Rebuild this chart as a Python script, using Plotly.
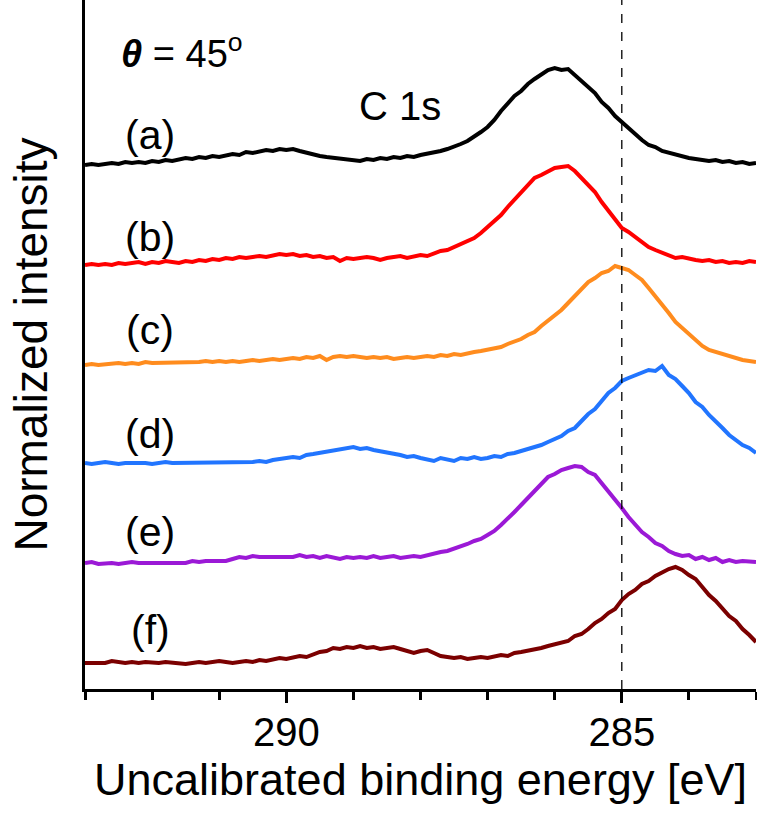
import plotly.graph_objects as go

# ---- data: binding energy grid (eV) and normalized intensities ----
energy = [293.0, 292.9, 292.8, 292.7, 292.6, 292.5, 292.4, 292.3, 292.2, 292.1,
          292.0, 291.9, 291.8, 291.7, 291.6, 291.5, 291.4, 291.3, 291.2, 291.1,
          291.0, 290.9, 290.8, 290.7, 290.6, 290.5, 290.4, 290.3, 290.2, 290.1,
          290.0, 289.9, 289.8, 289.7, 289.6, 289.5, 289.4, 289.3, 289.2, 289.1,
          289.0, 288.9, 288.8, 288.7, 288.6, 288.5, 288.4, 288.3, 288.2, 288.1,
          288.0, 287.9, 287.8, 287.7, 287.6, 287.5, 287.4, 287.3, 287.2, 287.1,
          287.0, 286.9, 286.8, 286.7, 286.6, 286.5, 286.4, 286.3, 286.2, 286.1,
          286.0, 285.9, 285.8, 285.7, 285.6, 285.5, 285.4, 285.3, 285.2, 285.1,
          285.0, 284.9, 284.8, 284.7, 284.6, 284.5, 284.4, 284.3, 284.2, 284.1,
          284.0, 283.9, 283.8, 283.7, 283.6, 283.5, 283.4, 283.3, 283.2, 283.1,
          283.0]

I_a = [-0.02, -0.01, -0.02, -0.01, 0.00, -0.01, 0.01, 0.00, 0.01, 0.00,
       0.02, 0.01, 0.03, 0.02, 0.03, 0.05, 0.04, 0.06, 0.05, 0.07,
       0.06, 0.08, 0.09, 0.08, 0.11, 0.10, 0.12, 0.13, 0.12, 0.14,
       0.13, 0.14, 0.12, 0.10, 0.09, 0.07, 0.06, 0.05, 0.04, 0.03,
       0.03, 0.02, 0.04, 0.03, 0.05, 0.04, 0.06, 0.05, 0.07, 0.06,
       0.08, 0.09, 0.11, 0.12, 0.14, 0.16, 0.19, 0.22, 0.26, 0.31,
       0.36, 0.43, 0.52, 0.60, 0.67, 0.72, 0.79, 0.84, 0.88, 0.93,
       0.95, 0.93, 0.94, 0.88, 0.83, 0.76, 0.70, 0.61, 0.55, 0.47,
       0.41, 0.34, 0.28, 0.23, 0.18, 0.16, 0.12, 0.10, 0.08, 0.07,
       0.05, 0.04, 0.03, 0.02, 0.03, 0.01, 0.02, 0.00, 0.01, -0.01,
       0.00]

I_b = [-0.02, -0.01, -0.02, -0.01, -0.02, 0.00, -0.01, 0.00, 0.01, -0.01,
       0.01, 0.00, 0.02, 0.01, 0.00, 0.02, 0.01, 0.03, 0.02, 0.04,
       0.03, 0.05, 0.04, 0.06, 0.05, 0.06, 0.07, 0.06, 0.08, 0.09,
       0.08, 0.09, 0.07, 0.08, 0.06, 0.07, 0.05, 0.06, 0.02, 0.05,
       0.04, 0.05, 0.06, 0.05, 0.03, 0.05, 0.06, 0.07, 0.05, 0.06,
       0.08, 0.07, 0.10, 0.12, 0.13, 0.16, 0.18, 0.22, 0.25, 0.30,
       0.36, 0.42, 0.48, 0.56, 0.63, 0.70, 0.77, 0.85, 0.88, 0.92,
       0.95, 0.96, 0.97, 0.92, 0.85, 0.79, 0.71, 0.61, 0.52, 0.43,
       0.35, 0.31, 0.26, 0.21, 0.16, 0.13, 0.10, 0.08, 0.05, 0.06,
       0.04, 0.03, 0.02, 0.03, 0.01, 0.02, 0.00, 0.01, 0.00, 0.02,
       0.01]

I_c = [-0.02, -0.01, -0.02, -0.01, -0.01, 0.00, -0.01, 0.00, -0.01, 0.01,
       0.00, 0.00, 0.01, 0.00, 0.00, 0.01, 0.00, 0.01, 0.02, 0.01,
       0.02, 0.01, 0.02, 0.01, 0.02, 0.03, 0.02, 0.03, 0.04, 0.03,
       0.04, 0.05, 0.04, 0.06, 0.05, 0.07, 0.03, 0.06, 0.07, 0.06,
       0.07, 0.06, 0.05, 0.06, 0.05, 0.06, 0.04, 0.05, 0.06, 0.05,
       0.06, 0.07, 0.06, 0.08, 0.07, 0.09, 0.08, 0.10, 0.11, 0.12,
       0.13, 0.15, 0.16, 0.19, 0.21, 0.24, 0.28, 0.31, 0.37, 0.42,
       0.48, 0.53, 0.60, 0.67, 0.75, 0.81, 0.85, 0.90, 0.92, 0.97,
       0.95, 0.93, 0.88, 0.83, 0.75, 0.67, 0.58, 0.50, 0.41, 0.35,
       0.29, 0.22, 0.17, 0.13, 0.11, 0.08, 0.06, 0.05, 0.03, 0.02,
       0.01]

I_d = [0.00, -0.01, 0.00, 0.01, 0.00, -0.01, 0.00, 0.00, 0.01, 0.00,
       -0.01, 0.00, 0.01, 0.00, 0.00, 0.01, 0.00, 0.01, 0.00, 0.01,
       0.00, 0.01, 0.00, 0.01, 0.00, 0.01, 0.02, 0.01, 0.03, 0.04,
       0.05, 0.06, 0.05, 0.08, 0.09, 0.10, 0.11, 0.12, 0.13, 0.14,
       0.16, 0.14, 0.15, 0.13, 0.12, 0.10, 0.09, 0.08, 0.06, 0.07,
       0.05, 0.04, 0.02, 0.05, 0.04, 0.02, 0.05, 0.04, 0.06, 0.04,
       0.05, 0.07, 0.06, 0.09, 0.10, 0.12, 0.13, 0.16, 0.18, 0.21,
       0.24, 0.27, 0.32, 0.35, 0.42, 0.49, 0.54, 0.62, 0.70, 0.75,
       0.82, 0.85, 0.88, 0.91, 0.93, 0.92, 0.97, 0.88, 0.84, 0.77,
       0.70, 0.61, 0.56, 0.48, 0.42, 0.35, 0.28, 0.23, 0.18, 0.15,
       0.10]

I_e = [0.00, 0.01, -0.01, 0.00, 0.00, -0.01, 0.00, 0.01, 0.00, 0.00,
       0.01, 0.00, 0.01, 0.00, 0.01, 0.00, 0.02, 0.01, 0.02, 0.02,
       0.03, 0.02, 0.04, 0.06, 0.05, 0.07, 0.06, 0.06, 0.07, 0.06,
       0.07, 0.06, 0.08, 0.06, 0.07, 0.05, 0.07, 0.06, 0.04, 0.06,
       0.05, 0.06, 0.05, 0.07, 0.05, 0.06, 0.07, 0.05, 0.06, 0.07,
       0.06, 0.08, 0.09, 0.11, 0.12, 0.14, 0.16, 0.19, 0.22, 0.24,
       0.28, 0.32, 0.38, 0.44, 0.51, 0.58, 0.65, 0.72, 0.79, 0.86,
       0.89, 0.93, 0.95, 0.97, 0.96, 0.91, 0.88, 0.80, 0.72, 0.63,
       0.55, 0.46, 0.39, 0.31, 0.26, 0.20, 0.17, 0.12, 0.09, 0.07,
       0.08, 0.04, 0.06, 0.03, 0.05, 0.01, 0.03, 0.01, 0.02, 0.01,
       0.01]

I_f = [0.00, 0.00, 0.01, 0.00, 0.02, 0.01, 0.00, 0.01, 0.00, 0.01,
       0.00, 0.00, 0.01, 0.00, 0.00, -0.01, 0.00, 0.01, 0.00, 0.01,
       0.02, 0.01, 0.00, 0.01, 0.02, 0.01, 0.03, 0.02, 0.04, 0.05,
       0.04, 0.06, 0.07, 0.06, 0.09, 0.11, 0.12, 0.15, 0.14, 0.16,
       0.15, 0.17, 0.15, 0.16, 0.14, 0.15, 0.16, 0.14, 0.12, 0.10,
       0.12, 0.13, 0.10, 0.07, 0.06, 0.05, 0.06, 0.04, 0.05, 0.06,
       0.05, 0.07, 0.08, 0.07, 0.10, 0.11, 0.12, 0.14, 0.15, 0.17,
       0.19, 0.20, 0.22, 0.27, 0.29, 0.34, 0.40, 0.44, 0.50, 0.54,
       0.63, 0.69, 0.73, 0.79, 0.82, 0.87, 0.91, 0.94, 0.96, 0.93,
       0.88, 0.84, 0.76, 0.68, 0.62, 0.55, 0.47, 0.42, 0.34, 0.28,
       0.21]

labels = ["(a)", "(b)", "(c)", "(d)", "(e)", "(f)"]
offsets = [5, 4, 3, 2, 1, 0]
colors = ["#000000", "#FF0000", "#FF8C1E", "#2175FF", "#9B19D6", "#7B0000"]
intensities = [I_a, I_b, I_c, I_d, I_e, I_f]

REF_ENERGY = 285.0
x_range = [293.0, 283.0]
y_range = [-0.26, 6.63]
major_ticks = [290, 285]
label_x = 292.03
label_y = [5.28, 4.26, 3.33, 2.29, 1.31, 0.33]

FONT = "Liberation Sans, Arial, sans-serif"

fig = go.Figure()
for I, off, c, lab in zip(intensities, offsets, colors, labels):
    fig.add_trace(go.Scatter(x=energy, y=[v + off for v in I], mode="lines",
                             line=dict(color=c, width=4), name=lab, showlegend=False))

fig.add_vline(x=REF_ENERGY, line=dict(color="black", width=1.3, dash="dash"))

for lab, ly in zip(labels, label_y):
    fig.add_annotation(x=label_x, y=ly, text=lab, showarrow=False, xanchor="center", yanchor="middle",
                       font=dict(size=41, color="black", family=FONT))

fig.add_annotation(x=292.5, y=6.12, text="<b><i>θ</i></b> = 45<sup>o</sup>", showarrow=False,
                   xanchor="left", yanchor="middle", font=dict(size=38, color="black", family=FONT))
fig.add_annotation(x=288.30, y=5.57, text="C 1s", showarrow=False, xanchor="center", yanchor="middle",
                   font=dict(size=40, color="black", family=FONT))

fig.update_layout(
    width=757, height=815,
    margin=dict(l=85, r=1, t=0, b=126),
    plot_bgcolor="white", paper_bgcolor="white",
    font=dict(family=FONT, color="black"),
    xaxis=dict(range=x_range, showline=True, linecolor="black", linewidth=3, mirror=False,
               showgrid=False, zeroline=False, tickmode="array", tickvals=major_ticks,
               ticks="outside", ticklen=11, tickwidth=3, tickcolor="black",
               tickfont=dict(size=40, family=FONT), ticklabelstandoff=-5,
               minor=dict(dtick=1, tick0=283, ticks="outside", ticklen=8, tickwidth=3, tickcolor="black",
                          showgrid=False),
               title=dict(text="Uncalibrated binding energy [eV]", font=dict(size=45, family=FONT),
                          standoff=8)),
    yaxis=dict(range=y_range, showline=True, linecolor="black", linewidth=3, showgrid=False,
               zeroline=False, showticklabels=False, ticks="",
               title=dict(text="Normalized intensity", font=dict(size=46, family=FONT), standoff=20)),
)

fig.write_html("out.html")
